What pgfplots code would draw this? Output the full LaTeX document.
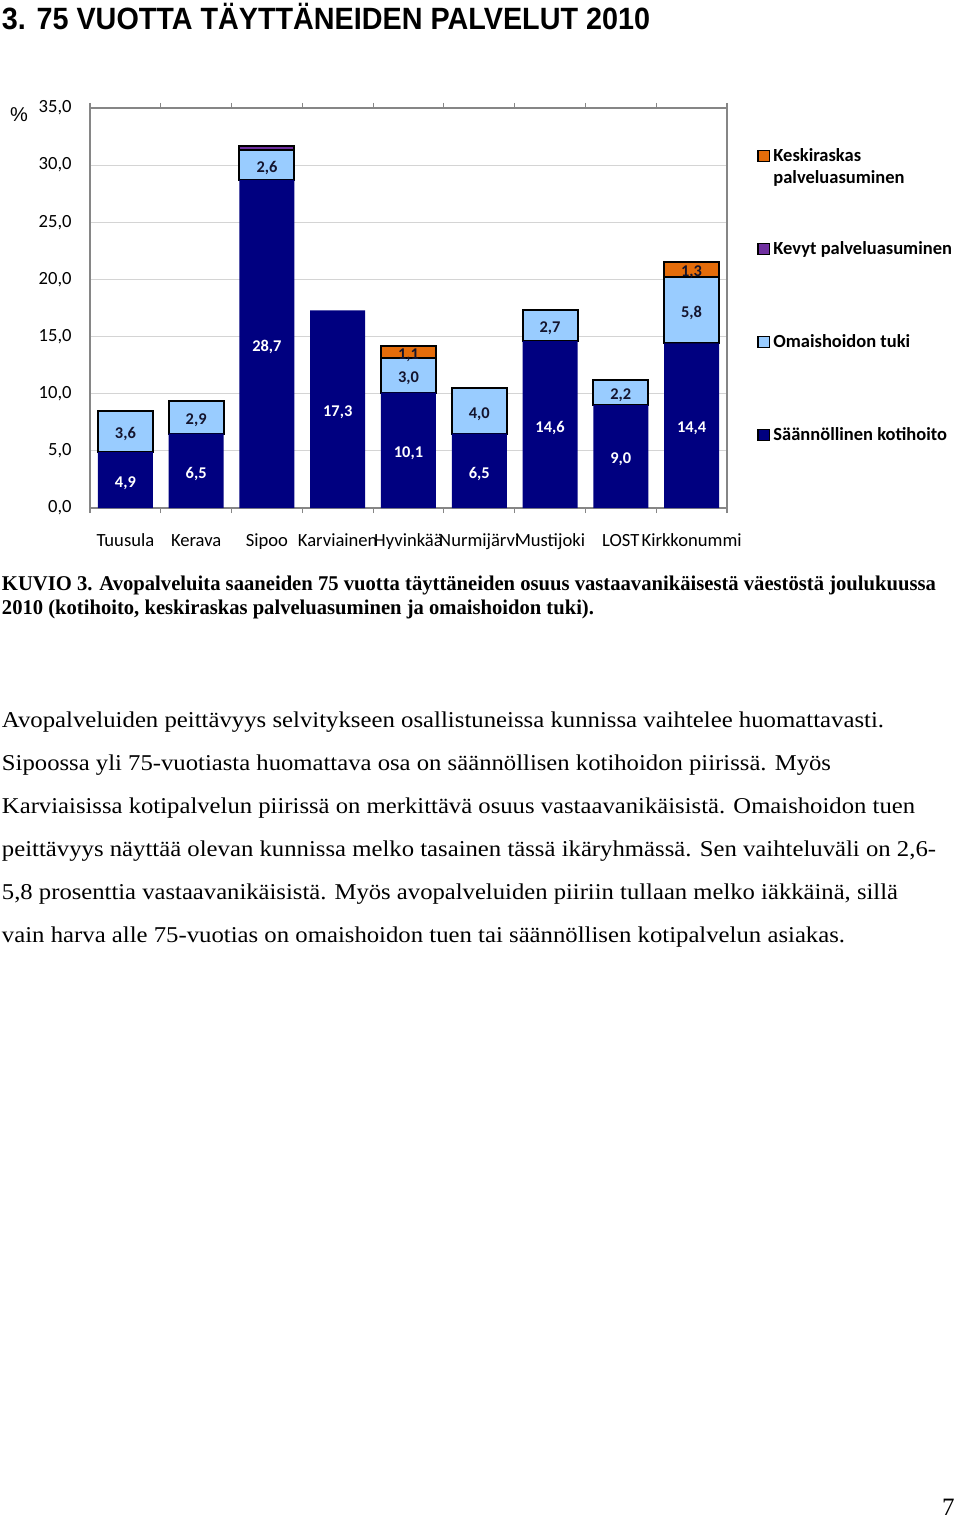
\documentclass[border=0pt]{standalone}
\usepackage{fontspec}
\setmainfont{Liberation Serif}
\newfontfamily\arialfont{Liberation Sans}
\newfontfamily\calibri{Carlito}
\usepackage{graphicx}
\usepackage{pgfplots}
\pgfplotsset{compat=1.18}
\definecolor{navy}{RGB}{0,0,128}
\definecolor{lblue}{RGB}{153,204,255}
\definecolor{orng}{RGB}{228,108,10}
\definecolor{purp}{RGB}{112,48,160}
\definecolor{gridc}{RGB}{212,212,212}
\definecolor{axc}{RGB}{134,134,134}
\definecolor{lbltxt}{RGB}{20,20,45}

\newcommand\fitline[5]{\node[anchor=base west,inner sep=0pt,outer sep=0pt] at (#1,#2) {\resizebox{#3}{\height}{#4#5}};}
\newcommand\legsq[2]{\filldraw[fill=#1,draw=black,line width=0.6pt] (758,#2-5.75) rectangle (769.5,#2+5.75);}
\newcommand\legtxt[2]{\node[anchor=base west,inner sep=0pt] at (773,#1) {\calibri\bfseries\fontsize{9.25}{11}\selectfont #2};}
\newcommand\bodyfont{\fontsize{11.3}{13.5}\selectfont}
\newcommand\capfont{\bfseries\fontsize{10.5}{12.5}\selectfont}

\begin{document}
\begin{tikzpicture}
\useasboundingbox (0,0) rectangle (480pt,-759.5pt);
\fill[white] (0,0) rectangle (480pt,-759.5pt);
\begin{scope}[x=0.5pt,y=-0.5pt]
  % title
  \fitline{2}{30}{324pt}{\arialfont\bfseries\fontsize{15.4}{18}\selectfont}{3. 75 VUOTTA TÄYTTÄNEIDEN PALVELUT 2010}
  % percent sign
  \node[inner sep=0pt] at (19,115) {\arialfont\fontsize{10}{12}\selectfont \%};
  % legend
  \legsq{orng}{156}
  \legtxt{161.5}{Keskiraskas}
  \legtxt{183.5}{palveluasuminen}
  \legsq{purp}{249}
  \legtxt{254.5}{Kevyt palveluasuminen}
  \legsq{lblue}{342}
  \legtxt{347.5}{Omaishoidon tuki}
  \legsq{navy}{435}
  \legtxt{440.5}{Säännöllinen kotihoito}
  % caption
  \fitline{2}{590}{467pt}{\capfont}{KUVIO 3. Avopalveluita saaneiden 75 vuotta täyttäneiden osuus vastaavanikäisestä väestöstä joulukuussa}
  \fitline{2}{614}{296pt}{\capfont}{2010 (kotihoito, keskiraskas palveluasuminen ja omaishoidon tuki).}
  % body
  \fitline{2}{727}{441pt}{\bodyfont}{Avopalveluiden peittävyys selvitykseen osallistuneissa kunnissa vaihtelee huomattavasti.}
  \fitline{2}{770}{414.5pt}{\bodyfont}{Sipoossa yli 75-vuotiasta huomattava osa on säännöllisen kotihoidon piirissä. Myös}
  \fitline{2}{813}{456.5pt}{\bodyfont}{Karviaisissa kotipalvelun piirissä on merkittävä osuus vastaavanikäisistä. Omaishoidon tuen}
  \fitline{2}{856}{467pt}{\bodyfont}{peittävyys näyttää olevan kunnissa melko tasainen tässä ikäryhmässä. Sen vaihteluväli on 2,6-}
  \fitline{2}{899}{448pt}{\bodyfont}{5,8 prosenttia vastaavanikäisistä. Myös avopalveluiden piiriin tullaan melko iäkkäinä, sillä}
  \fitline{2}{942}{421.5pt}{\bodyfont}{vain harva alle 75-vuotias on omaishoidon tuen tai säännöllisen kotipalvelun asiakas.}
  % page number
  \node[anchor=base east,inner sep=0pt] at (955,1515) {\fontsize{12.5}{14}\selectfont 7};
\end{scope}
\begin{axis}[
  at={(45pt,-254pt)}, anchor=south west,
  scale only axis, width=318.5pt, height=200pt,
  ybar stacked, bar width=27.5pt,
  xmin=-0.5, xmax=8.5, ymin=0, ymax=35,
  axis line style={axc, line width=0.6pt},
  xtick={0,1,...,8},
  xticklabels={Tuusula,Kerava,Sipoo,Karviainen,Hyvinkää,Nurmijärvi,Mustijoki,LOST,Kirkkonummi},
  minor xtick={-0.5,0.5,...,8.5},
  major tick length=0pt, minor tick length=2.5pt,
  tick align=outside,
  minor x tick style={axc, line width=0.6pt},
  ytick={0,5,...,35},
  ymajorgrids, major grid style={gridc, line width=0.5pt},
  yticklabel style={anchor=east, inner sep=0pt, xshift=-9pt, /pgf/number format/.cd, fixed, fixed zerofill, precision=1, use comma, assume math mode=true},
  xticklabel style={anchor=base, inner sep=0pt, yshift=-19pt},
  ticklabel style={font=\calibri\fontsize{9.3}{11}\selectfont},
  point meta=explicit symbolic,
  nodes near coords,
  every node near coord/.append style={anchor=center, inner sep=0pt, yshift=-1.5pt, font=\calibri\bfseries\fontsize{8.2}{9.8}\selectfont},
]
\addplot[fill=navy, draw=none, every node near coord/.append style={text=white}] coordinates {
  (0,4.9) [4,9] (1,6.5) [6,5] (2,28.7) [28,7] (3,17.3) [17,3] (4,10.1) [10,1]
  (5,6.5) [6,5] (6,14.6) [14,6] (7,9.0) [9,0] (8,14.4) [14,4]};
\addplot[fill=lblue, draw=black, line width=1pt, every node near coord/.append style={text=lbltxt}] coordinates {
  (0,3.6) [3,6] (1,2.9) [2,9] (2,2.6) [2,6] (3,0) [\empty] (4,3.0) [3,0]
  (5,4.0) [4,0] (6,2.7) [2,7] (7,2.2) [2,2] (8,5.8) [5,8]};
\addplot[fill=purp, draw=black, line width=1pt] coordinates {
  (0,0) [\empty] (1,0) [\empty] (2,0.35) [\empty] (3,0) [\empty] (4,0) [\empty]
  (5,0) [\empty] (6,0) [\empty] (7,0) [\empty] (8,0) [\empty]};
\addplot[fill=orng, draw=black, line width=1pt, every node near coord/.append style={text=lbltxt}] coordinates {
  (0,0) [\empty] (1,0) [\empty] (2,0) [\empty] (3,0) [\empty] (4,1.1) [1,1]
  (5,0) [\empty] (6,0) [\empty] (7,0) [\empty] (8,1.3) [1,3]};
\end{axis}
\end{tikzpicture}
\end{document}
